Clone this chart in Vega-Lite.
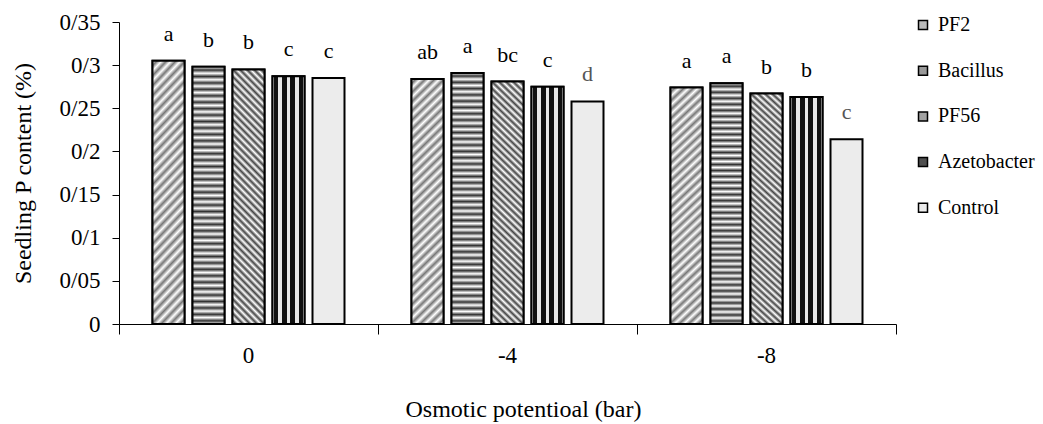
{
  "$schema": "https://vega.github.io/schema/vega-lite/v6.json",
  "width": 777,
  "height": 302,
  "autosize": {"type": "none"},
  "padding": {"left": 119, "top": 22, "right": 147, "bottom": 100},
  "background": "white",
  "config": {
    "view": {"stroke": null},
    "font": "Liberation Serif",
    "axis": {"grid": false, "domainColor": "#000", "tickColor": "#000", "labelColor": "#000", "titleColor": "#000", "labelFont": "Liberation Serif", "titleFont": "Liberation Serif", "titleFontWeight": "normal", "domainWidth": 1, "tickWidth": 1},
    "legend": {"labelFont": "Liberation Serif", "labelFontSize": 20, "labelColor": "#000"},
    "text": {"font": "Liberation Serif"}
  },
  "data": {
    "values": [
      {"group": "0", "treatment": "PF2", "value": 0.305, "letter": "a"},
      {"group": "0", "treatment": "Bacillus", "value": 0.298, "letter": "b"},
      {"group": "0", "treatment": "PF56", "value": 0.295, "letter": "b"},
      {"group": "0", "treatment": "Azetobacter", "value": 0.287, "letter": "c"},
      {"group": "0", "treatment": "Control", "value": 0.285, "letter": "c"},
      {"group": "-4", "treatment": "PF2", "value": 0.284, "letter": "ab"},
      {"group": "-4", "treatment": "Bacillus", "value": 0.291, "letter": "a"},
      {"group": "-4", "treatment": "PF56", "value": 0.281, "letter": "bc"},
      {"group": "-4", "treatment": "Azetobacter", "value": 0.275, "letter": "c"},
      {"group": "-4", "treatment": "Control", "value": 0.258, "letter": "d"},
      {"group": "-8", "treatment": "PF2", "value": 0.274, "letter": "a"},
      {"group": "-8", "treatment": "Bacillus", "value": 0.279, "letter": "a"},
      {"group": "-8", "treatment": "PF56", "value": 0.267, "letter": "b"},
      {"group": "-8", "treatment": "Azetobacter", "value": 0.263, "letter": "b"},
      {"group": "-8", "treatment": "Control", "value": 0.214, "letter": "c"}
    ]
  },
  "encoding": {
    "x": {
      "field": "group", "type": "nominal", "sort": ["0", "-4", "-8"],
      "scale": {"domain": ["0", "-4", "-8"], "paddingInner": 0, "paddingOuter": 0},
      "axis": {"title": "Osmotic potentioal (bar)", "labelAngle": 0, "bandPosition": 1, "tickExtra": true, "tickSize": 10, "labelPadding": 10, "labelFontSize": 23, "titleFontSize": 24, "titlePadding": 30, "titleX": 404}
    },
    "xOffset": {
      "field": "treatment", "type": "nominal",
      "scale": {"domain": ["PF2", "Bacillus", "PF56", "Azetobacter", "Control"], "paddingInner": 0.2, "paddingOuter": 0.8375}
    },
    "y": {
      "field": "value", "type": "quantitative",
      "scale": {"domain": [0, 0.35], "nice": false},
      "axis": {"title": "Seedling P content (%)", "values": [0, 0.05, 0.1, 0.15, 0.2, 0.25, 0.3, 0.35], "tickSize": 7, "labelPadding": 12, "labelFontSize": 23, "titleFontSize": 24, "titlePadding": 24, "labelExpr": "datum.value == 0 ? '0' : replace(format(datum.value, '.2~f'), '.', '/')"}
    }
  },
  "layer": [
    {
      "mark": {"type": "bar", "stroke": "#000", "strokeWidth": 2},
      "encoding": {
        "fill": {
          "field": "treatment", "type": "nominal",
          "scale": {
            "domain": ["PF2", "Bacillus", "PF56", "Azetobacter", "Control"],
            "range": ["#bbbbbb", "#999999", "#a2a2a2", "#4f4f4f", "#ececec"]
          },
          "legend": {"orient": "none", "legendX": 794, "legendY": -7, "title": null, "labelFontSize": 20, "labelFont": "Liberation Serif", "labelColor": "#000", "symbolType": "square", "symbolSize": 81, "symbolStrokeColor": "#000", "symbolStrokeWidth": 1.5, "rowPadding": 25.7, "labelOffset": 5, "padding": 0}
        }
      }
    },
    {
      "transform": [{"filter": "datum.treatment == 'PF2'"}],
      "mark": {"type": "bar", "stroke": "#000", "strokeWidth": 2, "fill": {"gradient": "linear", "x1": 0, "y1": 0, "x2": 0.142, "y2": 1.11, "stops": [{"offset":0,"color":"#fff"},{"offset":0.0167,"color":"#777"},{"offset":0.0333,"color":"#fff"},{"offset":0.05,"color":"#777"},{"offset":0.0667,"color":"#fff"},{"offset":0.0833,"color":"#777"},{"offset":0.1,"color":"#fff"},{"offset":0.1167,"color":"#777"},{"offset":0.1333,"color":"#fff"},{"offset":0.15,"color":"#777"},{"offset":0.1667,"color":"#fff"},{"offset":0.1833,"color":"#777"},{"offset":0.2,"color":"#fff"},{"offset":0.2167,"color":"#777"},{"offset":0.2333,"color":"#fff"},{"offset":0.25,"color":"#777"},{"offset":0.2667,"color":"#fff"},{"offset":0.2833,"color":"#777"},{"offset":0.3,"color":"#fff"},{"offset":0.3167,"color":"#777"},{"offset":0.3333,"color":"#fff"},{"offset":0.35,"color":"#777"},{"offset":0.3667,"color":"#fff"},{"offset":0.3833,"color":"#777"},{"offset":0.4,"color":"#fff"},{"offset":0.4167,"color":"#777"},{"offset":0.4333,"color":"#fff"},{"offset":0.45,"color":"#777"},{"offset":0.4667,"color":"#fff"},{"offset":0.4833,"color":"#777"},{"offset":0.5,"color":"#fff"},{"offset":0.5167,"color":"#777"},{"offset":0.5333,"color":"#fff"},{"offset":0.55,"color":"#777"},{"offset":0.5667,"color":"#fff"},{"offset":0.5833,"color":"#777"},{"offset":0.6,"color":"#fff"},{"offset":0.6167,"color":"#777"},{"offset":0.6333,"color":"#fff"},{"offset":0.65,"color":"#777"},{"offset":0.6667,"color":"#fff"},{"offset":0.6833,"color":"#777"},{"offset":0.7,"color":"#fff"},{"offset":0.7167,"color":"#777"},{"offset":0.7333,"color":"#fff"},{"offset":0.75,"color":"#777"},{"offset":0.7667,"color":"#fff"},{"offset":0.7833,"color":"#777"},{"offset":0.8,"color":"#fff"},{"offset":0.8167,"color":"#777"},{"offset":0.8333,"color":"#fff"},{"offset":0.85,"color":"#777"},{"offset":0.8667,"color":"#fff"},{"offset":0.8833,"color":"#777"},{"offset":0.9,"color":"#fff"},{"offset":0.9167,"color":"#777"},{"offset":0.9333,"color":"#fff"},{"offset":0.95,"color":"#777"},{"offset":0.9667,"color":"#fff"},{"offset":0.9833,"color":"#777"},{"offset":1,"color":"#fff"}]}}
    },
    {
      "transform": [{"filter": "datum.treatment == 'Bacillus'"}],
      "mark": {"type": "bar", "stroke": "#000", "strokeWidth": 2, "fill": {"gradient": "linear", "x1": 0, "y1": 0, "x2": 0, "y2": 1, "stops": [{"offset":0,"color":"#fff"},{"offset":0.0125,"color":"#333"},{"offset":0.025,"color":"#fff"},{"offset":0.0375,"color":"#333"},{"offset":0.05,"color":"#fff"},{"offset":0.0625,"color":"#333"},{"offset":0.075,"color":"#fff"},{"offset":0.0875,"color":"#333"},{"offset":0.1,"color":"#fff"},{"offset":0.1125,"color":"#333"},{"offset":0.125,"color":"#fff"},{"offset":0.1375,"color":"#333"},{"offset":0.15,"color":"#fff"},{"offset":0.1625,"color":"#333"},{"offset":0.175,"color":"#fff"},{"offset":0.1875,"color":"#333"},{"offset":0.2,"color":"#fff"},{"offset":0.2125,"color":"#333"},{"offset":0.225,"color":"#fff"},{"offset":0.2375,"color":"#333"},{"offset":0.25,"color":"#fff"},{"offset":0.2625,"color":"#333"},{"offset":0.275,"color":"#fff"},{"offset":0.2875,"color":"#333"},{"offset":0.3,"color":"#fff"},{"offset":0.3125,"color":"#333"},{"offset":0.325,"color":"#fff"},{"offset":0.3375,"color":"#333"},{"offset":0.35,"color":"#fff"},{"offset":0.3625,"color":"#333"},{"offset":0.375,"color":"#fff"},{"offset":0.3875,"color":"#333"},{"offset":0.4,"color":"#fff"},{"offset":0.4125,"color":"#333"},{"offset":0.425,"color":"#fff"},{"offset":0.4375,"color":"#333"},{"offset":0.45,"color":"#fff"},{"offset":0.4625,"color":"#333"},{"offset":0.475,"color":"#fff"},{"offset":0.4875,"color":"#333"},{"offset":0.5,"color":"#fff"},{"offset":0.5125,"color":"#333"},{"offset":0.525,"color":"#fff"},{"offset":0.5375,"color":"#333"},{"offset":0.55,"color":"#fff"},{"offset":0.5625,"color":"#333"},{"offset":0.575,"color":"#fff"},{"offset":0.5875,"color":"#333"},{"offset":0.6,"color":"#fff"},{"offset":0.6125,"color":"#333"},{"offset":0.625,"color":"#fff"},{"offset":0.6375,"color":"#333"},{"offset":0.65,"color":"#fff"},{"offset":0.6625,"color":"#333"},{"offset":0.675,"color":"#fff"},{"offset":0.6875,"color":"#333"},{"offset":0.7,"color":"#fff"},{"offset":0.7125,"color":"#333"},{"offset":0.725,"color":"#fff"},{"offset":0.7375,"color":"#333"},{"offset":0.75,"color":"#fff"},{"offset":0.7625,"color":"#333"},{"offset":0.775,"color":"#fff"},{"offset":0.7875,"color":"#333"},{"offset":0.8,"color":"#fff"},{"offset":0.8125,"color":"#333"},{"offset":0.825,"color":"#fff"},{"offset":0.8375,"color":"#333"},{"offset":0.85,"color":"#fff"},{"offset":0.8625,"color":"#333"},{"offset":0.875,"color":"#fff"},{"offset":0.8875,"color":"#333"},{"offset":0.9,"color":"#fff"},{"offset":0.9125,"color":"#333"},{"offset":0.925,"color":"#fff"},{"offset":0.9375,"color":"#333"},{"offset":0.95,"color":"#fff"},{"offset":0.9625,"color":"#333"},{"offset":0.975,"color":"#fff"},{"offset":0.9875,"color":"#333"},{"offset":1,"color":"#fff"}]}}
    },
    {
      "transform": [{"filter": "datum.treatment == 'PF56'"}],
      "mark": {"type": "bar", "stroke": "#000", "strokeWidth": 2, "fill": {"gradient": "linear", "x1": 0, "y1": 1, "x2": 0.142, "y2": -0.11, "stops": [{"offset":0,"color":"#fff"},{"offset":0.0125,"color":"#444"},{"offset":0.025,"color":"#fff"},{"offset":0.0375,"color":"#444"},{"offset":0.05,"color":"#fff"},{"offset":0.0625,"color":"#444"},{"offset":0.075,"color":"#fff"},{"offset":0.0875,"color":"#444"},{"offset":0.1,"color":"#fff"},{"offset":0.1125,"color":"#444"},{"offset":0.125,"color":"#fff"},{"offset":0.1375,"color":"#444"},{"offset":0.15,"color":"#fff"},{"offset":0.1625,"color":"#444"},{"offset":0.175,"color":"#fff"},{"offset":0.1875,"color":"#444"},{"offset":0.2,"color":"#fff"},{"offset":0.2125,"color":"#444"},{"offset":0.225,"color":"#fff"},{"offset":0.2375,"color":"#444"},{"offset":0.25,"color":"#fff"},{"offset":0.2625,"color":"#444"},{"offset":0.275,"color":"#fff"},{"offset":0.2875,"color":"#444"},{"offset":0.3,"color":"#fff"},{"offset":0.3125,"color":"#444"},{"offset":0.325,"color":"#fff"},{"offset":0.3375,"color":"#444"},{"offset":0.35,"color":"#fff"},{"offset":0.3625,"color":"#444"},{"offset":0.375,"color":"#fff"},{"offset":0.3875,"color":"#444"},{"offset":0.4,"color":"#fff"},{"offset":0.4125,"color":"#444"},{"offset":0.425,"color":"#fff"},{"offset":0.4375,"color":"#444"},{"offset":0.45,"color":"#fff"},{"offset":0.4625,"color":"#444"},{"offset":0.475,"color":"#fff"},{"offset":0.4875,"color":"#444"},{"offset":0.5,"color":"#fff"},{"offset":0.5125,"color":"#444"},{"offset":0.525,"color":"#fff"},{"offset":0.5375,"color":"#444"},{"offset":0.55,"color":"#fff"},{"offset":0.5625,"color":"#444"},{"offset":0.575,"color":"#fff"},{"offset":0.5875,"color":"#444"},{"offset":0.6,"color":"#fff"},{"offset":0.6125,"color":"#444"},{"offset":0.625,"color":"#fff"},{"offset":0.6375,"color":"#444"},{"offset":0.65,"color":"#fff"},{"offset":0.6625,"color":"#444"},{"offset":0.675,"color":"#fff"},{"offset":0.6875,"color":"#444"},{"offset":0.7,"color":"#fff"},{"offset":0.7125,"color":"#444"},{"offset":0.725,"color":"#fff"},{"offset":0.7375,"color":"#444"},{"offset":0.75,"color":"#fff"},{"offset":0.7625,"color":"#444"},{"offset":0.775,"color":"#fff"},{"offset":0.7875,"color":"#444"},{"offset":0.8,"color":"#fff"},{"offset":0.8125,"color":"#444"},{"offset":0.825,"color":"#fff"},{"offset":0.8375,"color":"#444"},{"offset":0.85,"color":"#fff"},{"offset":0.8625,"color":"#444"},{"offset":0.875,"color":"#fff"},{"offset":0.8875,"color":"#444"},{"offset":0.9,"color":"#fff"},{"offset":0.9125,"color":"#444"},{"offset":0.925,"color":"#fff"},{"offset":0.9375,"color":"#444"},{"offset":0.95,"color":"#fff"},{"offset":0.9625,"color":"#444"},{"offset":0.975,"color":"#fff"},{"offset":0.9875,"color":"#444"},{"offset":1,"color":"#fff"}]}}
    },
    {
      "transform": [{"filter": "datum.treatment == 'Azetobacter'"}],
      "mark": {"type": "bar", "stroke": "#000", "strokeWidth": 2, "fill": {"gradient": "linear", "x1": 0, "y1": 0, "x2": 1, "y2": 0, "stops": [{"offset":0,"color":"#e8e8e8"},{"offset":0.04,"color":"#e8e8e8"},{"offset":0.04,"color":"#111"},{"offset":0.18,"color":"#111"},{"offset":0.18,"color":"#e8e8e8"},{"offset":0.3,"color":"#e8e8e8"},{"offset":0.3,"color":"#111"},{"offset":0.44,"color":"#111"},{"offset":0.44,"color":"#e8e8e8"},{"offset":0.56,"color":"#e8e8e8"},{"offset":0.56,"color":"#111"},{"offset":0.7,"color":"#111"},{"offset":0.7,"color":"#e8e8e8"},{"offset":0.82,"color":"#e8e8e8"},{"offset":0.82,"color":"#111"},{"offset":0.96,"color":"#111"},{"offset":0.96,"color":"#e8e8e8"},{"offset":1,"color":"#e8e8e8"}]}}
    },
    {
      "mark": {"type": "text", "font": "Liberation Serif", "fontSize": 22, "baseline": "alphabetic", "dy": -20},
      "encoding": {
        "text": {"field": "letter"},
        "color": {"condition": {"test": "datum.treatment == 'Control' && datum.group != '0'", "value": "#555"}, "value": "#000"}
      }
    }
  ]
}
